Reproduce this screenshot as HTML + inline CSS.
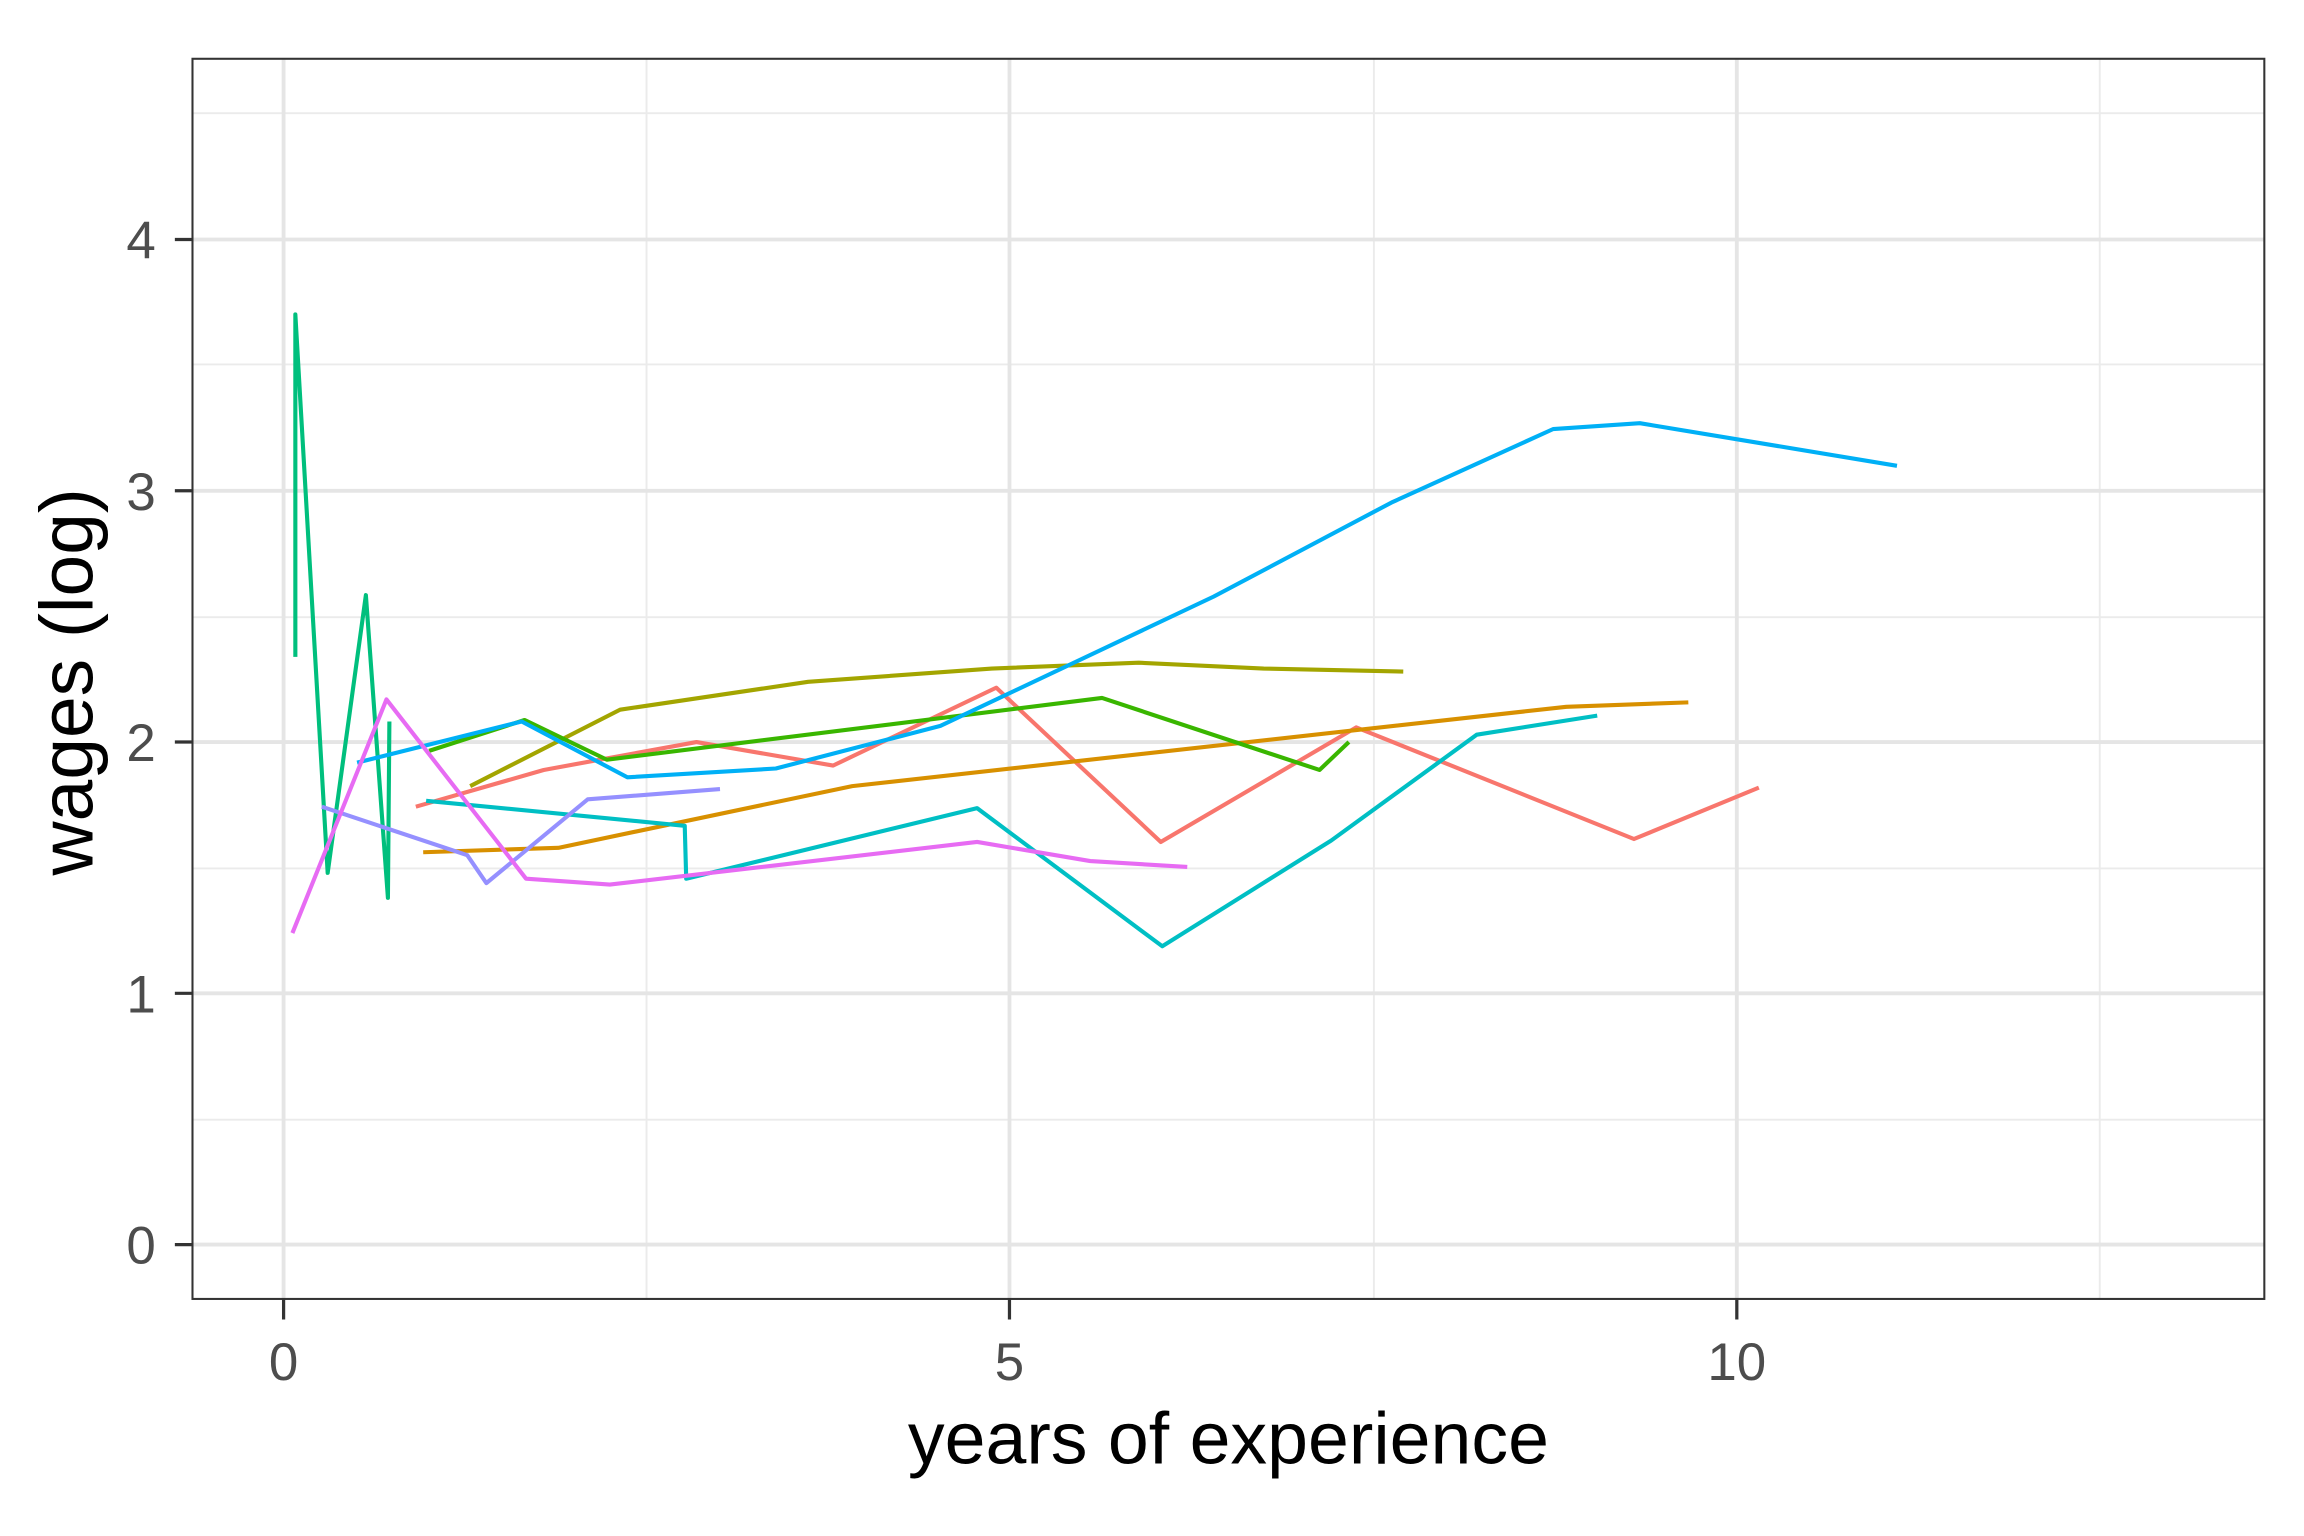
<!DOCTYPE html>
<html><head><meta charset="utf-8"><style>
html,body{margin:0;padding:0;background:#fff;}
svg{display:block;}
</style></head><body>
<svg width="2304" height="1536" viewBox="0 0 1568 1045.33" xmlns="http://www.w3.org/2000/svg" font-family="Liberation Sans, Arial, sans-serif">
<rect x="0" y="0" width="1568" height="1046" fill="#fff"/>
<g stroke="#ebebeb" stroke-width="1.3">
<line x1="131" x2="1541" y1="762" y2="762"/><line x1="131" x2="1541" y1="591" y2="591"/>
<line x1="131" x2="1541" y1="420" y2="420"/><line x1="131" x2="1541" y1="248" y2="248"/>
<line x1="131" x2="1541" y1="77" y2="77"/>
<line y1="40" y2="884" x1="440" x2="440"/><line y1="40" y2="884" x1="935" x2="935"/><line y1="40" y2="884" x1="1429" x2="1429"/>
</g>
<g stroke="#e5e5e5" stroke-width="2.6">
<line x1="131" x2="1541" y1="847" y2="847"/><line x1="131" x2="1541" y1="676" y2="676"/>
<line x1="131" x2="1541" y1="505" y2="505"/><line x1="131" x2="1541" y1="334" y2="334"/>
<line x1="131" x2="1541" y1="163" y2="163"/>
<line y1="40" y2="884" x1="193" x2="193"/><line y1="40" y2="884" x1="687" x2="687"/><line y1="40" y2="884" x1="1182" x2="1182"/>
</g>
<g fill="none" stroke-width="2.8" stroke-linejoin="round">
<polyline stroke="#F8766D" points="283,549 370,524 474,505 567,521 678,468 790,573 923,495 1112,571 1197,536"/>
<polyline stroke="#D89000" points="288,580 380,577 580,535 1066,481 1149,478"/>
<polyline stroke="#A3A500" points="320,535 422,483 550,464 675,455 775,451 860,455 955,457"/>
<polyline stroke="#39B600" points="292,511 357,490 413,517 750,475 898,524 918,505"/>
<polyline stroke="#00BF7D" points="201,447 201,214 223,594 249,405 264,611 265,491"/>
<polyline stroke="#00BFC4" points="290,545 466,562 467,598 665,550 791,644 906,572 1005,500 1087,487"/>
<polyline stroke="#00B0F6" points="243,519 355,491 427,529 528,523 640,494 826,406 947,342 1057,292 1116,288 1291,317"/>
<polyline stroke="#9590FF" points="219,549 318,582 331,601 400,544 490,537"/>
<polyline stroke="#E76BF3" points="199,635 263,476 358,598 415,602 665,573 742,586 808,590"/>
</g>
<rect x="131" y="40" width="1410" height="844" fill="none" stroke="#333" stroke-width="1.4"/>
<g stroke="#333" stroke-width="2.2">
<line x1="119" x2="131" y1="847" y2="847"/><line x1="119" x2="131" y1="676" y2="676"/>
<line x1="119" x2="131" y1="505" y2="505"/><line x1="119" x2="131" y1="334" y2="334"/>
<line x1="119" x2="131" y1="163" y2="163"/>
<line y1="884" y2="898" x1="193" x2="193"/><line y1="884" y2="898" x1="687" x2="687"/><line y1="884" y2="898" x1="1182" x2="1182"/>
</g>
<g fill="#4d4d4d" font-size="36" text-anchor="end">
<text x="106" y="860">0</text><text x="106" y="689">1</text><text x="106" y="518">2</text><text x="106" y="347">3</text><text x="106" y="176">4</text>
</g>
<g fill="#4d4d4d" font-size="36" text-anchor="middle">
<text x="193" y="939">0</text><text x="687" y="939">5</text><text x="1182" y="939">10</text>
</g>
<text x="836" y="996" font-size="50" text-anchor="middle" fill="#000">years of experience</text>
<text transform="translate(63,464) rotate(-90)" font-size="51" text-anchor="middle" fill="#000">wages (log)</text>
</svg>
</body></html>
